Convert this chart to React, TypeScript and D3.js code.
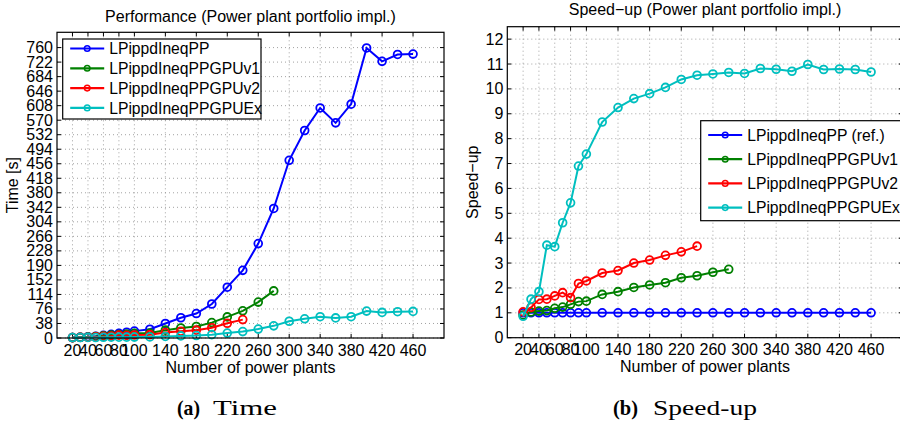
import React from "react";
import * as d3 from "d3";

// ---- data ----
const nPlants = [20, 30, 40, 50, 60, 70, 80, 90, 100, 120, 140, 160, 180, 200, 220, 240, 260, 280, 300, 320, 340, 360, 380, 400, 420, 440, 460];
const xTicks = [20, 40, 60, 80, 100, 140, 180, 220, 260, 300, 340, 380, 420, 460];
const timeTicks = [0, 38, 76, 114, 152, 190, 228, 266, 304, 342, 380, 418, 456, 494, 532, 570, 608, 646, 684, 722, 760];
const speedTicks = [0, 1, 2, 3, 4, 5, 6, 7, 8, 9, 10, 11, 12];

const timePP = [1, 2, 3, 4.5, 7, 9.5, 12, 15, 18, 23, 38, 53, 64, 89, 133, 177, 247, 339, 465, 543, 602, 563, 612, 759, 724, 742, 743];
const timeV1 = [1.1, 1.9, 2.8, 4.1, 5.9, 7.7, 9, 10.3, 12.2, 13.2, 20.5, 26.2, 30.2, 40.3, 55.2, 71.1, 93.9, 123.3];
const timeV2 = [1.0, 1.6, 1.9, 2.9, 4.2, 5.2, 7.5, 6.9, 7.9, 8.8, 14.1, 17.7, 20.5, 26.9, 38.6, 48.1];
const timeEx = [1.2, 1.3, 1.6, 1.2, 1.9, 2.1, 2.2, 2.2, 2.4, 2.7, 4.1, 5.5, 6.5, 8.8, 12.8, 16.8, 23.3, 31.8, 43.8, 50.2, 55.8, 52.6, 55.7, 70.4, 67, 68.8, 69.6];

const spPP = [1, 1, 1, 1, 1, 1, 1, 1, 1, 1, 1, 1, 1, 1, 1, 1, 1, 1, 1, 1, 1, 1, 1, 1, 1, 1, 1];
const spV1 = [0.91, 1.03, 1.07, 1.09, 1.18, 1.23, 1.34, 1.45, 1.47, 1.74, 1.85, 2.02, 2.12, 2.21, 2.41, 2.49, 2.63, 2.75];
const spV2 = [1.04, 1.22, 1.54, 1.55, 1.68, 1.81, 1.61, 2.18, 2.28, 2.6, 2.7, 3.0, 3.12, 3.31, 3.45, 3.68];
const spEx = [0.86, 1.55, 1.85, 3.72, 3.66, 4.62, 5.42, 6.9, 7.38, 8.67, 9.25, 9.61, 9.81, 10.06, 10.38, 10.55, 10.6, 10.66, 10.62, 10.82, 10.79, 10.71, 10.98, 10.78, 10.8, 10.78, 10.68];

const namesTime = ["LPippdIneqPP", "LPippdIneqPPGPUv1", "LPippdIneqPPGPUv2", "LPippdIneqPPGPUEx"];
const namesSpeed = ["LPippdIneqPP (ref.)", "LPippdIneqPPGPUv1", "LPippdIneqPPGPUv2", "LPippdIneqPPGPUEx"];
const colors = ["#0000ff", "#008000", "#ff0000", "#00bfbf"];

const FONT = "'Liberation Sans', Arial, Helvetica, sans-serif";
const SERIF = "'Liberation Serif', 'DejaVu Serif', serif";

type PanelProps = {
  left: number; top: number; right: number; bottom: number;
  yMax: number; yTicks: number[]; series: number[][]; names: string[];
  title: string; titleY: number; yLabel: string; yLabelX: number;
  legend: { x: number; y: number; w: number; h: number; row0: number; dy: number };
};

function Panel(p: PanelProps) {
  const x = d3.scaleLinear().domain([0, 500]).range([p.left, p.right]);
  const y = d3.scaleLinear().domain([0, p.yMax]).range([p.bottom, p.top]);
  const line = d3.line<[number, number]>().x((d) => x(d[0])).y((d) => y(d[1]));
  const tl = 4;
  const cx = (p.left + p.right) / 2;
  const cy = (p.top + p.bottom) / 2;
  return (
    <g>
      <rect x={p.left} y={p.top} width={p.right - p.left} height={p.bottom - p.top} fill="#fff" />
      {/* grid */}
      {xTicks.map((t) => (
        <line key={"gx" + t} x1={x(t)} x2={x(t)} y1={p.top} y2={p.bottom} stroke="#8a8a8a" strokeWidth={0.8} strokeDasharray="1,3" />
      ))}
      {p.yTicks.map((t) => (
        <line key={"gy" + t} x1={p.left} x2={p.right} y1={y(t)} y2={y(t)} stroke="#8a8a8a" strokeWidth={0.8} strokeDasharray="1,3" />
      ))}
      {/* ticks */}
      {xTicks.map((t) => (
        <g key={"tx" + t}>
          <line x1={x(t)} x2={x(t)} y1={p.bottom} y2={p.bottom - tl} stroke="#000" />
          <line x1={x(t)} x2={x(t)} y1={p.top} y2={p.top + tl} stroke="#000" />
          <text x={x(t)} y={p.bottom + 17.5} textAnchor="middle" fontSize={16} fontFamily={FONT}>{t}</text>
        </g>
      ))}
      {p.yTicks.map((t) => (
        <g key={"ty" + t}>
          <line x1={p.left} x2={p.left + tl} y1={y(t)} y2={y(t)} stroke="#000" />
          <line x1={p.right} x2={p.right - tl} y1={y(t)} y2={y(t)} stroke="#000" />
          <text x={p.left - 4} y={y(t) + 5.5} textAnchor="end" fontSize={16} fontFamily={FONT}>{t}</text>
        </g>
      ))}
      {/* series */}
      {p.series.map((vals, i) => {
        const pts: [number, number][] = vals.map((v, j) => [nPlants[j], v]);
        return (
          <g key={"s" + i}>
            <path d={line(pts) || ""} fill="none" stroke={colors[i]} strokeWidth={2} />
            {pts.map((d, j) => (
              <circle key={j} cx={x(d[0])} cy={y(d[1])} r={3.9} fill="none" stroke={colors[i]} strokeWidth={1.8} />
            ))}
          </g>
        );
      })}
      {/* frame */}
      <rect x={p.left} y={p.top} width={p.right - p.left} height={p.bottom - p.top} fill="none" stroke="#000" strokeWidth={1.2} />
      {/* title & labels */}
      <text x={cx} y={p.titleY} textAnchor="middle" fontSize={16} fontFamily={FONT}>{p.title}</text>
      <text x={cx} y={p.bottom + 34.5} textAnchor="middle" fontSize={16} fontFamily={FONT}>Number of power plants</text>
      <text transform={`translate(${p.yLabelX},${cy}) rotate(-90)`} textAnchor="middle" fontSize={16} fontFamily={FONT}>{p.yLabel}</text>
      {/* legend */}
      <rect x={p.legend.x} y={p.legend.y} width={p.legend.w} height={p.legend.h} fill="#fff" stroke="#000" strokeWidth={1.2} />
      {p.names.map((n, i) => {
        const ly = p.legend.row0 + i * p.legend.dy;
        const lx = p.legend.x + 7.5;
        return (
          <g key={"l" + i}>
            <line x1={lx} x2={lx + 34} y1={ly} y2={ly} stroke={colors[i]} strokeWidth={2.2} />
            <circle cx={lx + 17} cy={ly} r={2.8} fill="none" stroke={colors[i]} strokeWidth={1.5} />
            <text x={lx + 39} y={ly + 5.8} fontSize={15.7} fontFamily={FONT}>{n}</text>
          </g>
        );
      })}
    </g>
  );
}

export default function App() {
  return (
    <svg width={900} height={423} style={{ position: "absolute", left: 0, top: 0, background: "#fff" }}>
      <rect x={0} y={0} width={900} height={423} fill="#fff" />
      <Panel
        left={57} top={32.3} right={444} bottom={338}
        yMax={800} yTicks={timeTicks} series={[timePP, timeV1, timeV2, timeEx]} names={namesTime}
        title="Performance (Power plant portfolio impl.)" titleY={22} yLabel="Time [s]" yLabelX={18}
        legend={{ x: 62.7, y: 39, w: 198.3, h: 80, row0: 48.5, dy: 19.8 }}
      />
      <Panel
        left={507.3} top={26.7} right={902.7} bottom={337.7}
        yMax={12.5} yTicks={speedTicks} series={[spPP, spV1, spV2, spEx]} names={namesSpeed}
        title="Speed−up (Power plant portfolio impl.)" titleY={15} yLabel="Speed−up" yLabelX={478}
        legend={{ x: 700.7, y: 120.7, w: 260, h: 100, row0: 135, dy: 24.2 }}
      />
      {/* captions */}
      <text x={177} y={415} fontSize={21} fontWeight="bold" fontFamily={SERIF} textLength={23} lengthAdjust="spacingAndGlyphs">(a)</text>
      <text x={213} y={415} fontSize={21} fontFamily={SERIF} textLength={64} lengthAdjust="spacingAndGlyphs">Time</text>
      <text x={613} y={415} fontSize={21} fontWeight="bold" fontFamily={SERIF} textLength={25} lengthAdjust="spacingAndGlyphs">(b)</text>
      <text x={653} y={415} fontSize={21} fontFamily={SERIF} textLength={104} lengthAdjust="spacingAndGlyphs">Speed-up</text>
    </svg>
  );
}
